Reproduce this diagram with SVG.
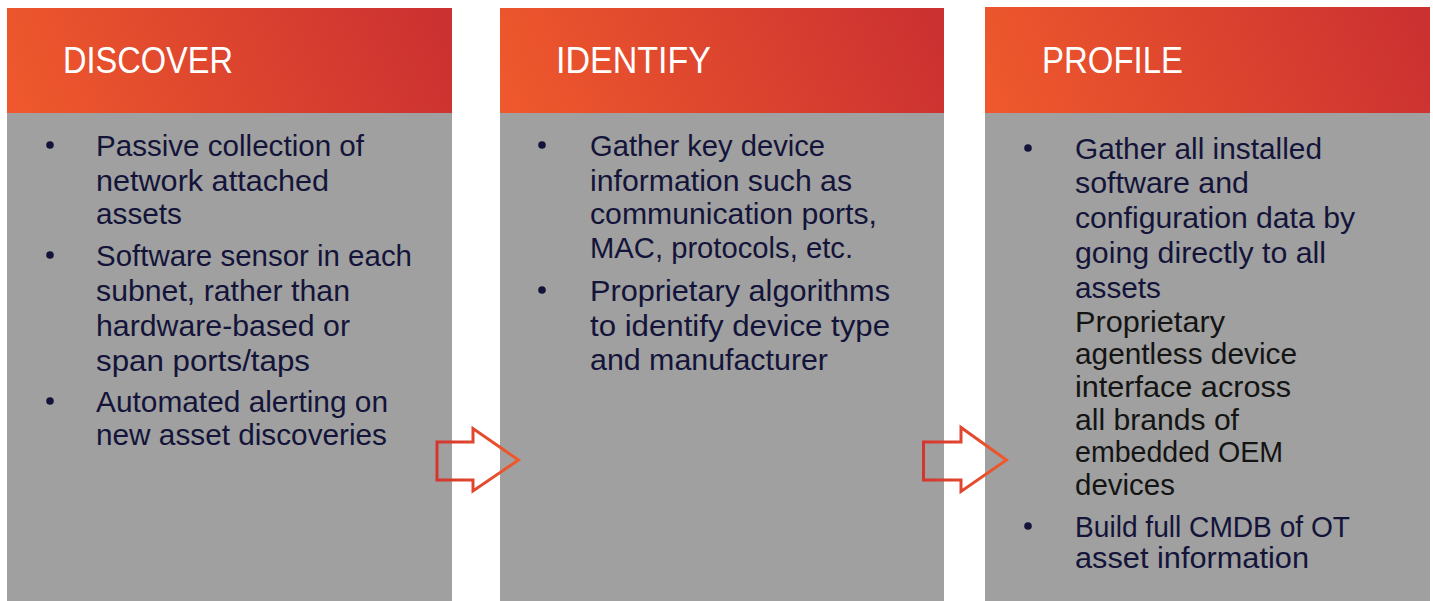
<svg xmlns="http://www.w3.org/2000/svg" width="1433" height="601" viewBox="0 0 1433 601">
  <defs>
    <linearGradient id="hdr" x1="0" y1="0.55" x2="1" y2="0.45">
      <stop offset="0" stop-color="#ee582c"/>
      <stop offset="1" stop-color="#cc3131"/>
    </linearGradient>
    <linearGradient id="arr" x1="0" y1="0" x2="1" y2="0">
      <stop offset="0" stop-color="#d4362f"/>
      <stop offset="1" stop-color="#f05a2b"/>
    </linearGradient>
  </defs>
  <style>
    .body { fill: #9fa09f; }
    .hdr { fill: url(#hdr); }
    .title { font-family: "Liberation Sans", Arial, sans-serif; font-size: 36px; fill: #ffffff; }
    .txt { font-family: "Liberation Sans", Arial, sans-serif; font-size: 29px; fill: #14143a; }
    .blk { fill: #141414; }
    .dot { fill: #14143a; }
    .arrow { fill: none; stroke: url(#arr); stroke-width: 3; stroke-linejoin: miter; }
  </style>
  <rect width="1433" height="601" fill="#ffffff"/>

  <g id="discover">
    <rect class="body" x="7" y="112" width="445" height="489"/>
    <rect class="hdr" x="7" y="8" width="445" height="105"/>
    <text class="title" x="63" y="73" textLength="170" lengthAdjust="spacingAndGlyphs">DISCOVER</text>
    <circle class="dot" cx="50" cy="145" r="3.8"/>
    <circle class="dot" cx="50" cy="255" r="3.8"/>
    <circle class="dot" cx="50" cy="401" r="3.8"/>
    <text class="txt" x="96" y="156" textLength="268" lengthAdjust="spacingAndGlyphs">Passive collection of</text>
    <text class="txt" x="96" y="191" textLength="233" lengthAdjust="spacingAndGlyphs">network attached</text>
    <text class="txt" x="96" y="224" textLength="86" lengthAdjust="spacingAndGlyphs">assets</text>
    <text class="txt" x="96" y="266" textLength="316" lengthAdjust="spacingAndGlyphs">Software sensor in each</text>
    <text class="txt" x="96" y="301" textLength="254" lengthAdjust="spacingAndGlyphs">subnet, rather than</text>
    <text class="txt" x="96" y="336" textLength="254" lengthAdjust="spacingAndGlyphs">hardware-based or</text>
    <text class="txt" x="96" y="371" textLength="214" lengthAdjust="spacingAndGlyphs">span ports/taps</text>
    <text class="txt" x="96" y="412" textLength="292" lengthAdjust="spacingAndGlyphs">Automated alerting on</text>
    <text class="txt" x="96" y="445" textLength="291" lengthAdjust="spacingAndGlyphs">new asset discoveries</text>
  </g>

  <g id="identify">
    <rect class="body" x="500" y="112" width="444" height="489"/>
    <rect class="hdr" x="500" y="8" width="444" height="105"/>
    <text class="title" x="556" y="73" textLength="155" lengthAdjust="spacingAndGlyphs">IDENTIFY</text>
    <circle class="dot" cx="542" cy="145" r="3.8"/>
    <circle class="dot" cx="542" cy="290" r="3.8"/>
    <text class="txt" x="590" y="156" textLength="235" lengthAdjust="spacingAndGlyphs">Gather key device</text>
    <text class="txt" x="590" y="191" textLength="262" lengthAdjust="spacingAndGlyphs">information such as</text>
    <text class="txt" x="590" y="224" textLength="287" lengthAdjust="spacingAndGlyphs">communication ports,</text>
    <text class="txt" x="590" y="258" textLength="263" lengthAdjust="spacingAndGlyphs">MAC, protocols, etc.</text>
    <text class="txt" x="590" y="301" textLength="300" lengthAdjust="spacingAndGlyphs">Proprietary algorithms</text>
    <text class="txt" x="590" y="336" textLength="300" lengthAdjust="spacingAndGlyphs">to identify device type</text>
    <text class="txt" x="590" y="370" textLength="238" lengthAdjust="spacingAndGlyphs">and manufacturer</text>
  </g>

  <g id="profile">
    <rect class="body" x="985" y="112" width="445" height="489"/>
    <rect class="hdr" x="985" y="7" width="445" height="106"/>
    <text class="title" x="1042" y="73" textLength="141" lengthAdjust="spacingAndGlyphs">PROFILE</text>
    <circle class="dot" cx="1028" cy="148" r="3.8"/>
    <circle class="dot" cx="1028" cy="526" r="3.8"/>
    <text class="txt" x="1075" y="159" textLength="247" lengthAdjust="spacingAndGlyphs">Gather all installed</text>
    <text class="txt" x="1075" y="193" textLength="174" lengthAdjust="spacingAndGlyphs">software and</text>
    <text class="txt" x="1075" y="228" textLength="280" lengthAdjust="spacingAndGlyphs">configuration data by</text>
    <text class="txt" x="1075" y="263" textLength="251" lengthAdjust="spacingAndGlyphs">going directly to all</text>
    <text class="txt" x="1075" y="298" textLength="86" lengthAdjust="spacingAndGlyphs">assets</text>
    <text class="txt blk" x="1075" y="332" textLength="150" lengthAdjust="spacingAndGlyphs">Proprietary</text>
    <text class="txt blk" x="1075" y="364" textLength="222" lengthAdjust="spacingAndGlyphs">agentless device</text>
    <text class="txt blk" x="1075" y="397" textLength="216" lengthAdjust="spacingAndGlyphs">interface across</text>
    <text class="txt blk" x="1075" y="430" textLength="164" lengthAdjust="spacingAndGlyphs">all brands of</text>
    <text class="txt blk" x="1075" y="462" textLength="208" lengthAdjust="spacingAndGlyphs">embedded OEM</text>
    <text class="txt blk" x="1075" y="495" textLength="100" lengthAdjust="spacingAndGlyphs">devices</text>
    <text class="txt" x="1075" y="537" textLength="275" lengthAdjust="spacingAndGlyphs">Build full CMDB of OT</text>
    <text class="txt" x="1075" y="568" textLength="234" lengthAdjust="spacingAndGlyphs">asset information</text>
  </g>

  <g id="connectors">
    <path class="arrow" d="M437,442 H473 V428.5 L518.5,460 L473,491 V480 H437 Z"/>
    <path class="arrow" d="M923.5,442 H961 V427.5 L1006.5,460 L961,491.5 V480 H923.5 Z"/>
  </g>
</svg>
